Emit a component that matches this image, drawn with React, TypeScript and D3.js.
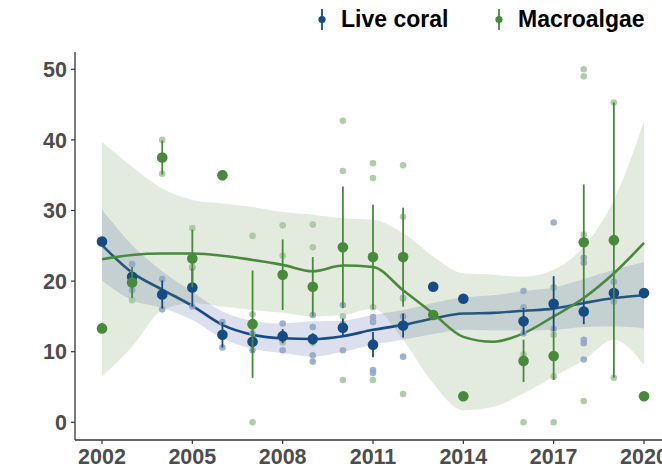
import * as d3 from 'd3'
import { useEffect } from 'react'

// fitted smooth + confidence band, read at each year
const fitYears = d3.range(2002, 2021)
const coralFit = [25.1, 21.2, 18.8, 16.5, 13.8, 12.4, 11.9, 11.8, 12.2, 13.1, 13.8, 14.7, 15.4, 15.5, 15.8, 16.1, 16.9, 17.6, 18.0]
const coralUpper = [30.1, 25.1, 21.4, 18.5, 15.7, 14.4, 14.0, 14.3, 14.4, 15.2, 15.9, 16.9, 17.7, 18.0, 18.6, 19.1, 20.3, 21.6, 22.7]
const coralLower = [20.1, 17.3, 16.2, 14.5, 11.9, 10.4, 9.8, 9.3, 10.0, 11.0, 11.7, 12.5, 13.1, 13.0, 13.0, 13.1, 13.5, 13.6, 13.3]
const algaeFit = [23.1, 23.7, 23.9, 23.9, 23.6, 23.0, 22.3, 21.4, 22.2, 22.0, 18.7, 15.4, 12.1, 11.4, 12.6, 15.0, 17.6, 21.1, 25.4]
const algaeUpper = [39.7, 36.2, 33.1, 31.5, 31.0, 30.5, 29.8, 29.4, 28.9, 28.7, 26.8, 23.5, 21.1, 20.9, 20.6, 21.6, 24.9, 31.5, 42.6]
const algaeLower = [6.5, 10.7, 15.9, 16.9, 16.4, 15.9, 15.5, 15.0, 15.2, 16.1, 11.7, 5.5, 1.7, 2.2, 4.1, 6.5, 8.8, 11.7, 8.1]

// yearly means and error half-widths
const surveyYears = [2002, 2003, 2004, 2005, 2006, 2007, 2008, 2009, 2010, 2011, 2012, 2013, 2014, 2016, 2017, 2018, 2019, 2020]
const coralMean = [25.6, 20.6, 18.1, 19.1, 12.4, 11.4, 12.2, 11.8, 13.4, 11.0, 13.7, 19.2, 17.5, 14.3, 16.8, 15.7, 18.3, 18.3]
const coralErr = [0, 1.0, 2.0, 2.7, 1.8, 1.5, 1.0, 0.8, 1.3, 1.8, 1.7, 0, 0, 1.9, 3.9, 1.8, 0.8, 0]
const algaeMean = [13.3, 19.8, 37.5, 23.2, 35.0, 13.9, 20.9, 19.2, 24.8, 23.4, 23.4, 15.2, 3.7, 8.7, 9.4, 25.5, 25.8, 3.7]
const algaeErr = [0, 2.2, 2.4, 4.1, 0.3, 7.6, 5.0, 4.2, 8.6, 7.4, 7.0, 0, 0, 3.0, 3.4, 8.2, 19.5, 0]

// individual site values
const coralRaw: [number, number][] = [
  [2003, 22.4], [2003, 18.7], [2004, 20.3], [2004, 16.0], [2005, 21.9], [2005, 16.4],
  [2006, 14.2], [2006, 10.6], [2007, 12.6], [2007, 10.2], [2008, 14.0], [2008, 11.6], [2008, 10.2],
  [2009, 15.2], [2009, 13.5], [2009, 9.5], [2009, 8.6], [2010, 16.6], [2010, 13.9], [2010, 10.2],
  [2011, 14.9], [2011, 14.2], [2011, 7.4], [2011, 7.0], [2012, 17.6], [2012, 15.0], [2012, 9.3],
  [2016, 18.6], [2016, 16.3], [2016, 12.6], [2017, 28.3], [2017, 19.1], [2017, 13.2],
  [2018, 23.3], [2018, 22.6], [2018, 11.7], [2018, 11.2], [2018, 8.9], [2019, 19.9], [2019, 17.1],
]
const algaeRaw: [number, number][] = [
  [2003, 21.0], [2003, 17.3], [2004, 40.0], [2004, 35.2], [2005, 27.5], [2005, 22.0],
  [2006, 35.3], [2006, 34.7], [2007, 26.4], [2007, 15.3], [2007, 0], [2008, 27.9], [2008, 23.6], [2008, 11.3],
  [2009, 28.0], [2009, 24.8], [2009, 11.2], [2010, 42.7], [2010, 35.6], [2010, 15.0], [2010, 6.0],
  [2011, 36.7], [2011, 34.6], [2011, 16.3], [2011, 6.0], [2012, 36.4], [2012, 29.1], [2012, 17.5], [2012, 4.0],
  [2016, 9.6], [2016, 0], [2017, 19.1], [2017, 12.4], [2017, 6.5], [2017, 0],
  [2018, 50.0], [2018, 49.0], [2018, 26.6], [2018, 3.0], [2019, 45.3], [2019, 6.3],
]

const xTicks = [2002, 2005, 2008, 2011, 2014, 2017, 2020]
const yTicks = [0, 10, 20, 30, 40, 50]
const seriesNames = ['Live coral', 'Macroalgae']

const BLUE = '#174b85'
const GREEN = '#478a3c'
const FONT = '"Liberation Sans", Arial, sans-serif'

export default function App() {
  useEffect(() => {
    document.body.style.margin = '0'
  }, [])

  const x = d3.scaleLinear().domain([2002, 2020]).range([102, 644])
  const y = d3.scaleLinear().domain([0, 50]).range([422.3, 69.3])

  const line = d3
    .line<number>()
    .x((_, i) => x(fitYears[i]))
    .y((d) => y(d))
    .curve(d3.curveMonotoneX)

  const band = (lo: number[], hi: number[]) =>
    d3
      .area<number>()
      .x((_, i) => x(fitYears[i]))
      .y0((_, i) => y(lo[i]))
      .y1((_, i) => y(hi[i]))
      .curve(d3.curveMonotoneX)(fitYears)

  const series = [
    { name: seriesNames[0], color: BLUE, faded: '#8da5c3', mean: coralMean, err: coralErr, raw: coralRaw },
    { name: seriesNames[1], color: GREEN, faded: '#a2c49c', mean: algaeMean, err: algaeErr, raw: algaeRaw },
  ]

  return (
    <svg width={662} height={471} style={{ display: 'block', fontFamily: FONT }}>
      {/* y title, mostly cut off on the left */}
      <text
        transform="translate(-1, 136) rotate(-90)"
        textAnchor="middle"
        fontSize={20}
        fontWeight="bold"
        fill="#4d4d4d"
      >
        Percent cover
      </text>

      {/* confidence bands and fits */}
      <path d={band(coralLower, coralUpper) || ''} fill="#3a4fa0" fillOpacity={0.18} />
      <path d={line(coralFit) || ''} fill="none" stroke={BLUE} strokeWidth={2.6} />
      <path d={band(algaeLower, algaeUpper) || ''} fill="#6b8f50" fillOpacity={0.19} />
      <path d={line(algaeFit) || ''} fill="none" stroke={GREEN} strokeWidth={2.6} />

      {/* raw site values */}
      {series.map((s) => (
        <g key={`raw-${s.name}`} fill={s.faded} fillOpacity={0.85}>
          {s.raw.map(([yr, v], i) => (
            <circle key={i} cx={x(yr)} cy={y(v)} r={3.3} />
          ))}
        </g>
      ))}

      {/* means with error bars */}
      {series.map((s) => (
        <g key={`mean-${s.name}`}>
          {surveyYears.map((yr, i) =>
            s.err[i] > 0 ? (
              <line
                key={`e-${i}`}
                x1={x(yr)}
                x2={x(yr)}
                y1={y(s.mean[i] - s.err[i])}
                y2={y(s.mean[i] + s.err[i])}
                stroke={s.color}
                strokeWidth={1.8}
              />
            ) : null,
          )}
          {surveyYears.map((yr, i) => (
            <circle key={`m-${i}`} cx={x(yr)} cy={y(s.mean[i])} r={5.3} fill={s.color} />
          ))}
        </g>
      ))}

      {/* axes */}
      <line x1={75} x2={75} y1={52} y2={440} stroke="#333" strokeWidth={1.3} />
      <line x1={75} x2={662} y1={440} y2={440} stroke="#333" strokeWidth={1.3} />
      {yTicks.map((t) => (
        <g key={`y-${t}`}>
          <line x1={71} x2={75} y1={y(t)} y2={y(t)} stroke="#333" strokeWidth={1.2} />
          <text
            x={67}
            y={y(t)}
            dy="0.36em"
            textAnchor="end"
            fontSize={21.5}
            fontWeight="bold"
            fill="#4d4d4d"
          >
            {t}
          </text>
        </g>
      ))}
      {xTicks.map((t) => (
        <g key={`x-${t}`}>
          <line x1={x(t)} x2={x(t)} y1={440} y2={444} stroke="#333" strokeWidth={1.2} />
          <text x={x(t)} y={464} textAnchor="middle" fontSize={21.5} fontWeight="bold" fill="#4d4d4d">
            {t}
          </text>
        </g>
      ))}

      {/* legend */}
      {series.map((s, i) => {
        const kx = i === 0 ? 322 : 499
        return (
          <g key={`leg-${s.name}`}>
            <line x1={kx} x2={kx} y1={9} y2={30} stroke={s.color} strokeWidth={1.8} />
            <circle cx={kx} cy={19.5} r={3.6} fill={s.color} />
            <text x={kx + 19} y={27} fontSize={23} fontWeight="bold" fill="#000">
              {s.name}
            </text>
          </g>
        )
      })}
    </svg>
  )
}
